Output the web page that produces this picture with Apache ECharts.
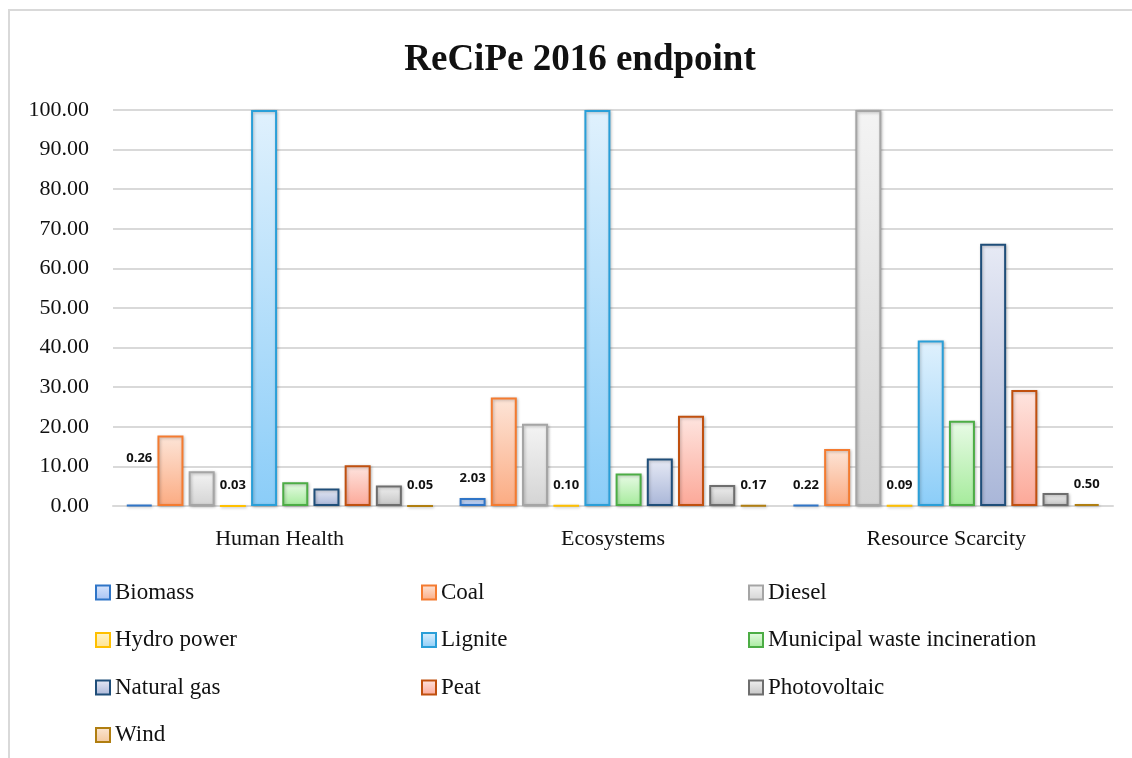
<!DOCTYPE html>
<html>
<head>
<meta charset="utf-8">
<title>ReCiPe 2016 endpoint</title>
<script src="https://cdn.jsdelivr.net/npm/echarts@6/dist/echarts.min.js"></script>
<style>
  html, body { margin: 0; padding: 0; background: #fff; }
  #chart { width: 1132px; height: 758px; }
</style>
</head>
<body>
<div id="chart"></div>
<script>
const categories = ["Human Health", "Ecosystems", "Resource Scarcity"];

const biomass = [0.26, 2.03, 0.22];
const coal = [17.8, 27.4, 14.4];
const diesel = [8.8, 20.8, 100.0];
const hydroPower = [0.03, 0.10, 0.09];
const lignite = [100.0, 100.0, 41.8];
const municipalWaste = [6.0, 8.2, 21.5];
const naturalGas = [4.4, 12.0, 66.2];
const peat = [10.3, 22.8, 29.3];
const photovoltaic = [5.2, 5.3, 3.3];
const wind = [0.05, 0.17, 0.50];

const yTicks = { min: 0, max: 100, interval: 10 };

// name, values, border, gradient top, gradient bottom, show value labels
const seriesDefs = [
  ["Biomass", biomass, "#2f75c7", "#d8e5fc", "#a7c3f4", true],
  ["Coal", coal, "#f47b30", "#fde5d8", "#fbab82", false],
  ["Diesel", diesel, "#a5a5a5", "#f4f4f4", "#d4d4d4", false],
  ["Hydro power", hydroPower, "#ffc000", "#fff5cc", "#ffe38f", true],
  ["Lignite", lignite, "#2a9fd8", "#e0f1fd", "#8bcdf8", false],
  ["Municipal waste incineration", municipalWaste, "#4cad45", "#e9fbe7", "#a5eb9b", false],
  ["Natural gas", naturalGas, "#1f4e79", "#e7eaf5", "#a9b6d8", false],
  ["Peat", peat, "#c0500f", "#fee5e0", "#fca898", false],
  ["Photovoltaic", photovoltaic, "#6e6e6e", "#f1f1f1", "#c4c4c4", false],
  ["Wind", wind, "#b07e10", "#fbe6d2", "#f3c89d", true]
];

const chart = echarts.init(document.getElementById("chart"));

const series = seriesDefs.map(([name, values, border, top, bottom, showLabel]) => ({
  name: name,
  type: "bar",
  barWidth: 26,
  barGap: "20%",
  data: values.map((v, i) => {
    // the 0.26 label sits higher in the original
    if (name === "Biomass" && i === 0) {
      return { value: v, label: { distance: 40 } };
    }
    return v;
  }),
  itemStyle: {
    color: new echarts.graphic.LinearGradient(0, 0, 0, 1, [
      { offset: 0, color: top },
      { offset: 1, color: bottom }
    ]),
    borderColor: border,
    borderWidth: 2,
    shadowColor: "rgba(0,0,0,0.25)",
    shadowBlur: 3,
    shadowOffsetX: 1,
    shadowOffsetY: 1
  },
  label: {
    show: showLabel,
    position: "top",
    distance: 13,
    formatter: (p) => p.value.toFixed(2),
    fontFamily: "Open Sans",
    fontWeight: "bold",
    fontSize: 13,
    color: "#111"
  }
}));

const legendText = {
  fontFamily: "Liberation Serif",
  fontSize: 23,
  color: "#111",
  lineHeight: 22
};

function legendColumn(names, left) {
  return {
    data: names,
    orient: "vertical",
    left: left,
    top: 576,
    icon: "rect",
    itemWidth: 14,
    itemHeight: 14,
    itemGap: 24.5,
    selectedMode: false,
    textStyle: legendText
  };
}

const option = {
  animation: false,
  backgroundColor: "#fff",
  title: {
    text: "ReCiPe 2016 endpoint",
    left: 575,
    textAlign: "center",
    top: 37,
    textStyle: {
      fontFamily: "Liberation Serif",
      fontWeight: "bold",
      fontSize: 37,
      color: "#111"
    }
  },
  graphic: [{
    type: "rect",
    shape: { x: 9, y: 10, width: 1140, height: 760 },
    style: { fill: "none", stroke: "#d9d9d9", lineWidth: 2 },
    silent: true
  }],
  legend: [
    legendColumn(["Biomass", "Hydro power", "Natural gas", "Wind"], 90),
    legendColumn(["Coal", "Lignite", "Peat"], 416),
    legendColumn(["Diesel", "Municipal waste incineration", "Photovoltaic"], 743)
  ],
  grid: {
    left: 113,
    right: 19,
    top: 110,
    bottom: 252
  },
  xAxis: {
    type: "category",
    data: categories,
    axisTick: { show: false },
    axisLine: { lineStyle: { color: "#d9d9d9", width: 2 } },
    axisLabel: {
      margin: 22,
      fontFamily: "Liberation Serif",
      fontSize: 22,
      color: "#111"
    }
  },
  yAxis: {
    type: "value",
    min: yTicks.min,
    max: yTicks.max,
    interval: yTicks.interval,
    axisLine: { show: false },
    axisTick: { show: false },
    splitLine: { lineStyle: { color: "#d9d9d9", width: 2 } },
    axisLabel: {
      margin: 24,
      formatter: (v) => v.toFixed(2),
      fontFamily: "Liberation Serif",
      fontSize: 22,
      color: "#111"
    }
  },
  series: series
};

chart.setOption(option);

window.addEventListener('resize', () => {
  chart.resize();
});
</script>
</body>
</html>
